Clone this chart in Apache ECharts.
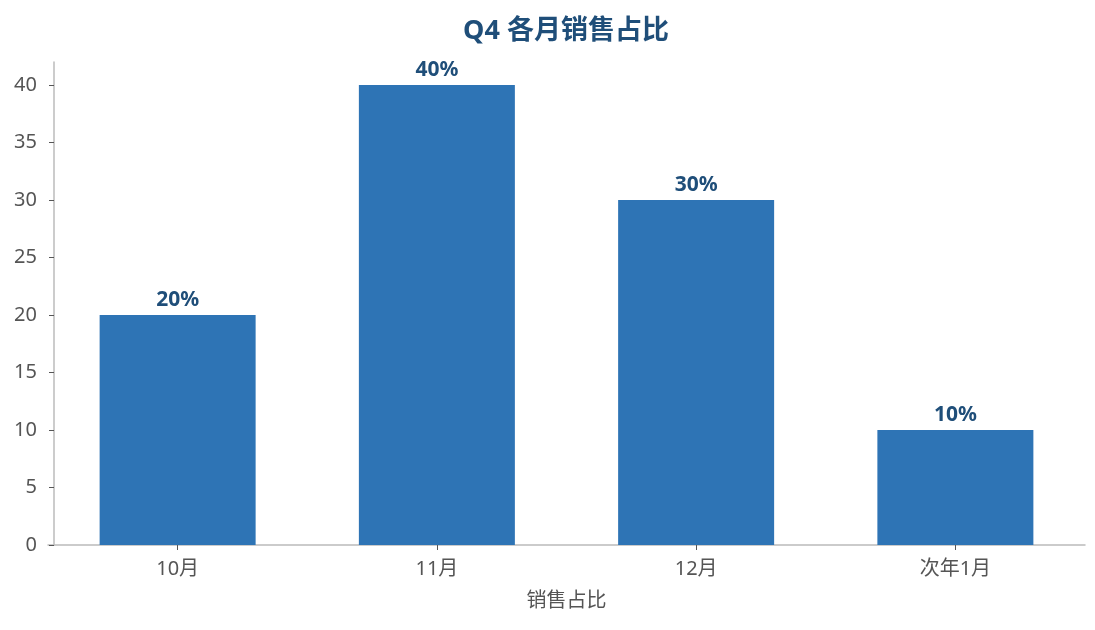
<!DOCTYPE html>
<html><head><meta charset="utf-8">
<script src="https://cdn.jsdelivr.net/npm/echarts@6/dist/echarts.min.js"></script>
<style>html,body{margin:0;padding:0;background:#fff}#c{width:1095px;height:630px}</style>
</head><body><div id="c"></div>
<script>
const categories = ['10月', '11月', '12月', '次年1月'];
const values = [20, 40, 30, 10];
const yTicks = [0, 5, 10, 15, 20, 25, 30, 35, 40];
const title = 'Q4 各月销售占比';
const xName = '销售占比';

const font = '"Noto Sans", "Noto Sans CJK SC", sans-serif';
const chart = echarts.init(document.getElementById('c'));
chart.setOption({
  textStyle: { fontFamily: font },
  title: { text: title, left: 561, textAlign: 'center', top: 13,
    textStyle: { fontSize: 27, fontWeight: 'bold', color: '#1f4e79', fontFamily: font } },
  grid: { left: 48, right: 10, top: 62, bottom: 85 },
  xAxis: {
    type: 'category', data: categories,
    name: xName, nameLocation: 'middle', nameGap: 46,
    nameTextStyle: { fontSize: 20, color: '#555', fontFamily: font },
    axisLine: { lineStyle: { color: '#bbb', width: 1.5 } },
    axisTick: { show: true, alignWithLabel: true, length: 5, lineStyle: { color: '#555' } },
    axisLabel: { fontSize: 20, color: '#555', margin: 14, fontFamily: font }
  },
  yAxis: {
    type: 'value', min: 0, max: 42, interval: 5, offset: -6,
    axisLine: { show: true, lineStyle: { color: '#bbb', width: 1.5 } },
    axisTick: { show: true, customValues: yTicks, length: 5, lineStyle: { color: '#555' } },
    axisLabel: { customValues: yTicks, fontSize: 20, color: '#555', margin: 17, fontFamily: font },
    splitLine: { show: false }
  },
  series: [{
    type: 'bar', data: values, barWidth: 156,
    itemStyle: { color: '#2e74b5' },
    label: { show: true, position: 'top', formatter: p => p.value + '%',
      fontSize: 21, fontWeight: 'bold', color: '#1f4e79', distance: 4, fontFamily: font }
  }]
});
</script></body></html>
